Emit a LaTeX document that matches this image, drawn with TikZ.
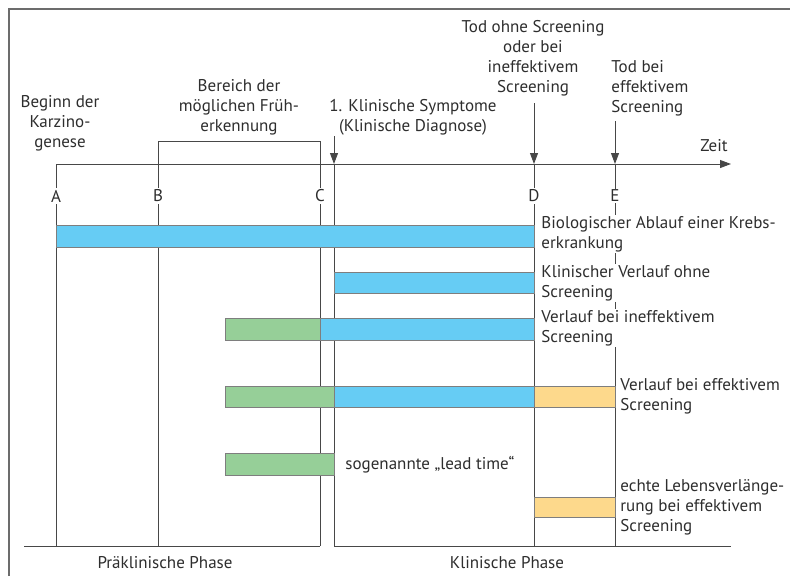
\documentclass[tikz,border=0pt]{standalone}
\usepackage{fontspec}
\setmainfont{PT Sans}
\usetikzlibrary{arrows.meta, positioning}

\definecolor{barblue}{HTML}{66CCF4}
\definecolor{bargreen}{HTML}{96CF98}
\definecolor{barorange}{HTML}{FDD98C}
\definecolor{linegray}{HTML}{474747}
\definecolor{textgray}{HTML}{2E2E2E}

\begin{document}
\begin{tikzpicture}[x=1pt, y=-1pt, line width=0.9pt, draw=linegray,
    font=\fontsize{17}{20}\selectfont,
    lbl/.style={fill=white, inner sep=1pt, text=textgray, align=left},
    clbl/.style={lbl, align=center},
    tick/.style={fill=white, inner sep=1.5pt, text=textgray},
    bar/.style={draw=linegray!70, line width=0.5pt},
    pointer/.style={-{Triangle[length=11pt, width=8pt]}}]

    \useasboundingbox (0,0) rectangle (790,576);

    % frame, cut off at the right and bottom
    \draw[linegray!80, line width=1.3pt] (9,576) -- (9,9) -- (790,9);

    \coordinate (A top) at (56,164);  \coordinate (A bot) at (56,546);
    \coordinate (B top) at (158,141); \coordinate (B bot) at (158,546);
    \coordinate (C top) at (320,141); \coordinate (C bot) at (320,546);
    \coordinate (S top) at (334,123); \coordinate (S axis) at (334,164); \coordinate (S bot) at (334,546);
    \coordinate (D top) at (534,103); \coordinate (D axis) at (534,164); \coordinate (D bot) at (534,546);
    \coordinate (E top) at (615,121); \coordinate (E axis) at (615,164); \coordinate (E bot) at (615,546);
    \coordinate (axis end) at (731,164);
    \coordinate (base L) at (24,546);
    \coordinate (base R) at (731,546);

    % time axis and markers
    \path[pointer] (A top) edge (axis end);
    \path
        (A top) edge (A bot)
        (B top) edge (C top)
        (B top) edge (B bot)
        (C top) edge (C bot)
        (S axis) edge (S bot)
        (D axis) edge (D bot)
        (E axis) edge (E bot)
        (base L) edge (C bot)
        (S bot) edge (base R);
    \path[pointer]
        (S top) edge (S axis)
        (D top) edge (D axis)
        (E top) edge (E axis);

    % bars
    \draw[bar, fill=barblue]   (56,225) rectangle (534,247);
    \draw[bar, fill=barblue]   (334,272) rectangle (534,293);
    \draw[bar, fill=bargreen]  (225,318) rectangle (320,340);
    \draw[bar, fill=barblue]   (320,318) rectangle (534,340);
    \draw[bar, fill=bargreen]  (225,386) rectangle (334,407);
    \draw[bar, fill=barblue]   (334,386) rectangle (534,407);
    \draw[bar, fill=barorange] (534,386) rectangle (615,407);
    \draw[bar, fill=bargreen]  (225,453) rectangle (334,475);
    \draw[bar, fill=barorange] (534,497) rectangle (615,517);

    % letters on the axis
    \node (A) [tick] at (56,196) {A};
    \node (B) [tick] at (158,196) {B};
    \node (C) [tick] at (320,196) {C};
    \node (D) [tick] at (534,196) {D};
    \node (E) [tick] at (615,196) {E};

    % texts above the axis
    \node (beginn) [clbl] at (60,123) {Beginn der\\Karzino-\\genese};
    \node (bereich) [clbl] at (239,107) {Bereich der\\möglichen Früh-\\erkennung};
    \node (symptome) [clbl] at (413,117) {1. Klinische Symptome\\(Klinische Diagnose)};
    \node (tod ohne) [clbl] at (533,58) {Tod ohne Screening\\oder bei\\ineffektivem\\Screening};
    \node (tod bei) [lbl, anchor=west] at (610,88) {Tod bei\\effektivem\\Screening};
    \node (zeit) [lbl] at (714,146) {Zeit};

    % texts beside the bars
    \node (bio) [lbl, anchor=west] at (540,234) {Biologischer Ablauf einer Krebs-\\erkrankung};
    \node (ohne) [lbl, anchor=west] at (540,283) {Klinischer Verlauf ohne\\Screening};
    \node (ineff) [lbl, anchor=west] at (540,328) {Verlauf bei ineffektivem\\Screening};
    \node (eff) [lbl, anchor=west] at (619,396) {Verlauf bei effektivem\\Screening};
    \node (lead) [lbl, anchor=west] at (344,465) {sogenannte „lead time“};
    \node (leben) [lbl, anchor=west] at (619,507) {echte Lebensverlänge-\\rung bei effektivem\\Screening};

    % phases
    \node (praekl) [lbl] at (165,563) {Präklinische Phase};
    \node (klin) [lbl] at (507,563) {Klinische Phase};
\end{tikzpicture}
\end{document}
